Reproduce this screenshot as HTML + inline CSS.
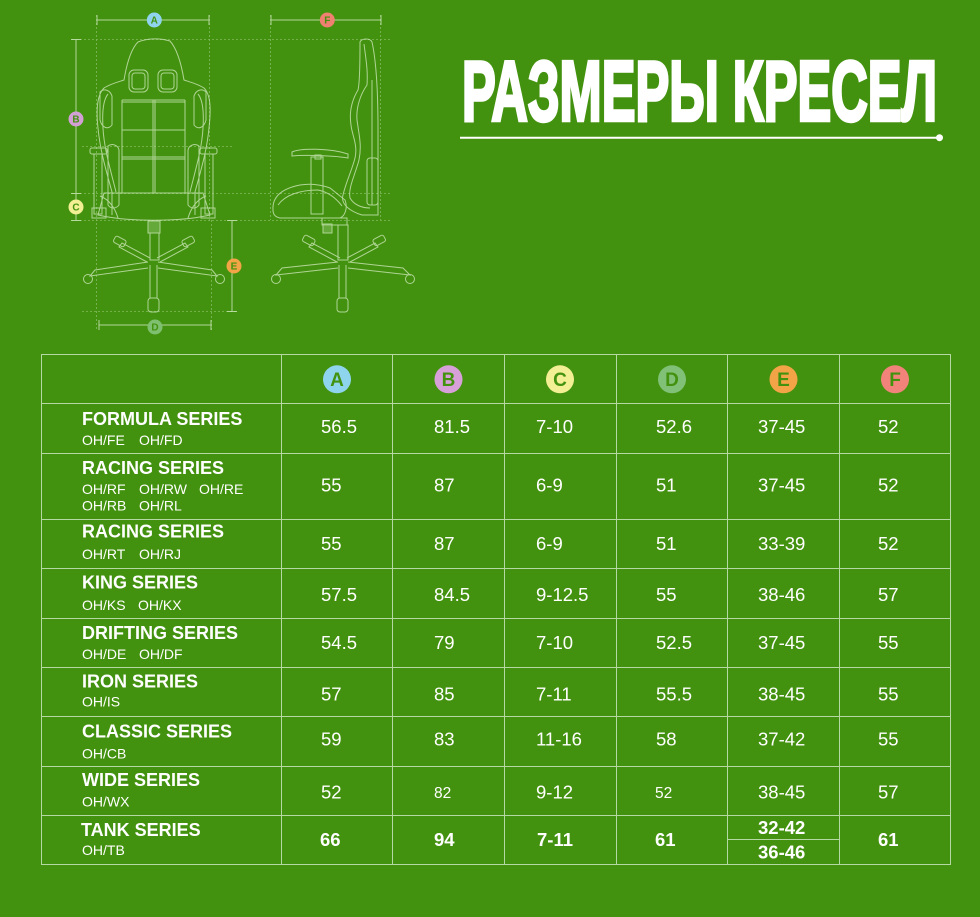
<!DOCTYPE html>
<html><head><meta charset="utf-8"><style>
html,body{margin:0;padding:0;background:#43920f;}
svg{display:block;}
</style></head><body>
<svg width="980" height="917" viewBox="0 0 980 917" xmlns="http://www.w3.org/2000/svg">
<rect width="980" height="917" fill="#43920f"/>

<!-- guide dashed lines -->
<g stroke="#b9dca0" stroke-width="0.8" stroke-dasharray="2,2" opacity="0.55" fill="none">
<line x1="72" y1="39.5" x2="392" y2="39.5"/>
<line x1="72" y1="193.5" x2="390" y2="193.5"/>
<line x1="72" y1="220.5" x2="392" y2="220.5"/>
<line x1="82" y1="146.5" x2="232" y2="146.5"/>
<line x1="82" y1="311.5" x2="237" y2="311.5"/>
<line x1="96.5" y1="15" x2="96.5" y2="330"/>
<line x1="209.5" y1="15" x2="209.5" y2="222"/>
<line x1="211.5" y1="220" x2="211.5" y2="330"/>
<line x1="270.5" y1="15" x2="270.5" y2="220"/>
<line x1="380.5" y1="15" x2="380.5" y2="220"/>
</g>

<!-- dimension lines -->
<g stroke="#cfe8bd" stroke-width="1" fill="none" opacity="0.8">
<line x1="97" y1="20" x2="209" y2="20"/><line x1="97" y1="15" x2="97" y2="25"/><line x1="209" y1="15" x2="209" y2="25"/>
<line x1="271" y1="20" x2="381" y2="20"/><line x1="271" y1="15" x2="271" y2="25"/><line x1="381" y1="15" x2="381" y2="25"/>
<line x1="76" y1="39" x2="76" y2="220"/><line x1="71" y1="39.5" x2="81" y2="39.5"/><line x1="71" y1="193.5" x2="81" y2="193.5"/><line x1="71" y1="220.5" x2="81" y2="220.5"/>
<line x1="232" y1="220" x2="232" y2="312"/><line x1="227" y1="220.5" x2="237" y2="220.5"/><line x1="227" y1="311.5" x2="237" y2="311.5"/>
<line x1="99" y1="325" x2="211" y2="325"/><line x1="99" y1="320" x2="99" y2="330"/><line x1="211" y1="320" x2="211" y2="330"/>
</g>

<!-- front chair -->
<g stroke="#d3ecc2" stroke-width="1" fill="none" opacity="0.75">
<path d="M112,215 L112,192 C106,170 100,150 98,128 C96,110 97,95 104,88 C110,84 118,82 124,80 C126,68 130,50 138,42 C148,38 160,38 170,41 C178,50 182,68 184,80 C190,82 198,84 204,88 C211,95 211,110 209,128 C207,150 201,170 195,192 L195,215"/>
<path d="M116,192 C110,168 104,148 103,128 C102,112 103,100 108,94 M190,192 C196,168 202,148 203,128 C204,112 203,100 198,94"/>
<path d="M100,92 C104,88 110,90 112,96 L112,125 C108,130 102,128 100,120 Z"/>
<path d="M206,92 C202,88 196,90 194,96 L194,125 C198,130 204,128 206,120 Z"/>
<rect x="129" y="70" width="19" height="22" rx="5"/><rect x="158" y="70" width="19" height="22" rx="5"/>
<rect x="132" y="73" width="13" height="16" rx="3"/><rect x="161" y="73" width="13" height="16" rx="3"/>
<line x1="122" y1="100" x2="122" y2="193"/><line x1="185" y1="100" x2="185" y2="193"/>
<line x1="153" y1="100" x2="153" y2="193"/><line x1="155" y1="100" x2="155" y2="193"/>
<line x1="122" y1="100" x2="185" y2="100"/><line x1="122" y1="102" x2="185" y2="102"/>
<line x1="122" y1="130" x2="185" y2="130"/><line x1="122" y1="157" x2="185" y2="157"/><line x1="122" y1="159" x2="185" y2="159"/>
<path d="M104,193 L203,193 L210,215 C180,222 128,222 98,215 Z"/>
<path d="M100,196 C110,200 115,208 118,218 M206,196 C196,200 191,208 188,218"/>
<rect x="90" y="148" width="17" height="6" rx="2"/><rect x="94" y="154" width="8" height="60"/><rect x="92" y="208" width="14" height="10"/>
<path d="M108,146 C112,143 118,145 119,150 L119,205 C115,210 110,208 108,205 Z"/>
<rect x="200" y="148" width="17" height="6" rx="2"/><rect x="205" y="154" width="8" height="60"/><rect x="201" y="208" width="14" height="10"/>
<path d="M199,146 C195,143 189,145 188,150 L188,205 C192,210 197,208 199,205 Z"/>
<rect x="148" y="221" width="12" height="12" fill="#9fcf86" fill-opacity="0.5"/>
<rect x="150" y="233" width="9" height="27"/>
<path d="M150,258 L122,243 L119,247 L147,262"/><rect x="114" y="238" width="12" height="7" rx="2" transform="rotate(28 120 241)"/>
<path d="M157,258 L185,243 L188,247 L160,262"/><rect x="182" y="238" width="12" height="7" rx="2" transform="rotate(-28 188 241)"/>
<path d="M148,262 L95,270 L90,276 L148,268"/><circle cx="88" cy="279" r="4.5"/>
<path d="M158,262 L212,270 L217,276 L158,268"/><circle cx="220" cy="279" r="4.5"/>
<path d="M150,265 L150,298 M157,265 L157,298"/><rect x="148" y="298" width="11" height="14" rx="3"/>
</g>

<!-- side chair -->
<g stroke="#d3ecc2" stroke-width="1" fill="none" opacity="0.75">
<path d="M360,42 C362,38 370,38 372,42 C376,60 378,90 378,130 L378,215 L362,215 C352,212 340,205 343,195 C346,182 352,170 355,158 C358,145 352,135 351,125 C349,112 352,100 358,90 C360,82 360,60 360,42 Z"/>
<path d="M364,44 C366,60 368,70 367,85 C360,95 356,108 357,120 C359,135 362,145 359,160 C355,175 348,188 350,198 C354,205 362,208 370,208"/>
<line x1="372" y1="80" x2="372" y2="205"/>
<rect x="367" y="158" width="11" height="47" rx="3"/>
<path d="M273,210 C272,195 285,188 300,185 C312,183 322,185 330,188 L345,200 C348,208 345,216 340,218 L280,218 C275,217 273,214 273,210 Z"/>
<path d="M278,205 C285,195 300,190 318,190 C328,192 336,198 342,206"/>
<path d="M292,152 C300,148 330,148 348,154 L348,158 C330,155 300,155 292,156 Z"/>
<rect x="311" y="157" width="12" height="57"/><rect x="315" y="155" width="6" height="4"/>
<rect x="322" y="218" width="25" height="7"/>
<rect x="323" y="224" width="9" height="9" fill="#9fcf86" fill-opacity="0.5"/>
<rect x="338" y="225" width="10" height="35"/>
<path d="M340,258 L312,243 L309,247 L337,262"/><rect x="303" y="237" width="12" height="7" rx="2" transform="rotate(28 309 240)"/>
<path d="M347,258 L375,243 L378,247 L350,262"/><rect x="373" y="237" width="12" height="7" rx="2" transform="rotate(-28 379 240)"/>
<path d="M338,262 L282,268 L276,275 L338,268"/><circle cx="276" cy="279" r="4.5"/>
<path d="M348,262 L403,268 L410,275 L348,268"/><circle cx="410" cy="279" r="4.5"/>
<path d="M339,265 L339,298 M346,265 L346,298"/><rect x="337" y="298" width="11" height="14" rx="3"/>
</g>

<!-- dimension label circles -->
<g font-family="Liberation Sans, sans-serif" font-weight="bold" font-size="10" text-anchor="middle" fill="#43920f">
<circle cx="154.3" cy="20" r="7.5" fill="#8fd3ec"/><text x="154.3" y="23.6">A</text>
<circle cx="327.3" cy="20" r="7.5" fill="#f08070"/><text x="327.3" y="23.6">F</text>
<circle cx="76" cy="119" r="7.5" fill="#d3a0d6"/><text x="76" y="122.6">B</text>
<circle cx="76" cy="207" r="7.5" fill="#f2ef94"/><text x="76" y="210.6">C</text>
<circle cx="234" cy="266" r="7.5" fill="#f2a446"/><text x="234" y="269.6">E</text>
<circle cx="155" cy="327" r="7.5" fill="#7fc070"/><text x="155" y="330.6">D</text>
</g>

<!-- title -->
<text x="462" y="120.5" font-family="Liberation Sans, sans-serif" font-weight="bold" font-size="85" textLength="475" lengthAdjust="spacingAndGlyphs" fill="#ffffff" stroke="#ffffff" stroke-width="3.5" stroke-linejoin="miter">РАЗМЕРЫ КРЕСЕЛ</text>
<line x1="460" y1="137.7" x2="940" y2="137.7" stroke="#ffffff" stroke-width="2"/>
<circle cx="939.5" cy="137.7" r="3.5" fill="#ffffff"/>

<!-- table grid -->
<g stroke="#b6d9a3" stroke-width="1" fill="none">
<rect x="41.5" y="354.5" width="909" height="510"/>
<line x1="41" y1="403.5" x2="951" y2="403.5"/>
<line x1="41" y1="453.5" x2="951" y2="453.5"/>
<line x1="41" y1="519.5" x2="951" y2="519.5"/>
<line x1="41" y1="568.5" x2="951" y2="568.5"/>
<line x1="41" y1="618.5" x2="951" y2="618.5"/>
<line x1="41" y1="667.5" x2="951" y2="667.5"/>
<line x1="41" y1="716.5" x2="951" y2="716.5"/>
<line x1="41" y1="766.5" x2="951" y2="766.5"/>
<line x1="41" y1="815.5" x2="951" y2="815.5"/>
<line x1="728" y1="839.5" x2="839" y2="839.5"/>
<line x1="281.5" y1="354" x2="281.5" y2="865"/>
<line x1="392.5" y1="354" x2="392.5" y2="865"/>
<line x1="504.5" y1="354" x2="504.5" y2="865"/>
<line x1="616.5" y1="354" x2="616.5" y2="865"/>
<line x1="727.5" y1="354" x2="727.5" y2="865"/>
<line x1="839.5" y1="354" x2="839.5" y2="865"/>
</g>

<!-- header circles -->
<g font-family="Liberation Sans, sans-serif" font-weight="bold" font-size="19" text-anchor="middle" fill="#43920f">
<circle cx="337" cy="379.3" r="14" fill="#8ed4ec"/><text x="337" y="386.2">A</text>
<circle cx="448.5" cy="379.3" r="14" fill="#d7a0d8"/><text x="448.5" y="386.2">B</text>
<circle cx="560" cy="379.3" r="14" fill="#f2ef94"/><text x="560" y="386.2">C</text>
<circle cx="672" cy="379.3" r="14" fill="#80c177"/><text x="672" y="386.2">D</text>
<circle cx="783.5" cy="379.3" r="14" fill="#f2a446"/><text x="783.5" y="386.2">E</text>
<circle cx="895" cy="379.3" r="14" fill="#f2837a"/><text x="895" y="386.2">F</text>
</g>

<!-- series names -->
<g font-family="Liberation Sans, sans-serif" font-weight="bold" font-size="18" fill="#ffffff">
<text x="82" y="425">FORMULA SERIES</text>
<text x="82" y="474">RACING SERIES</text>
<text x="82" y="537.5">RACING SERIES</text>
<text x="82" y="588.3">KING SERIES</text>
<text x="82" y="639">DRIFTING SERIES</text>
<text x="82" y="687.3">IRON SERIES</text>
<text x="82" y="737.7">CLASSIC SERIES</text>
<text x="82" y="786">WIDE SERIES</text>
<text x="81" y="836">TANK SERIES</text>
</g>

<!-- codes -->
<g font-family="Liberation Sans, sans-serif" font-size="14" fill="#ffffff">
<text x="82" y="445">OH/FE</text><text x="139" y="445">OH/FD</text>
<text x="82" y="494">OH/RF</text><text x="139" y="494">OH/RW</text><text x="199" y="494">OH/RE</text>
<text x="82" y="510.5">OH/RB</text><text x="139" y="510.5">OH/RL</text>
<text x="82" y="559">OH/RT</text><text x="139" y="559">OH/RJ</text>
<text x="82" y="610">OH/KS</text><text x="138" y="610">OH/KX</text>
<text x="82" y="659">OH/DE</text><text x="139" y="659">OH/DF</text>
<text x="82" y="706.7">OH/IS</text>
<text x="82" y="758.3">OH/CB</text>
<text x="82" y="806.7">OH/WX</text>
<text x="82" y="855">OH/TB</text>
</g>

<!-- values -->
<g font-family="Liberation Sans, sans-serif" font-size="18.5" fill="#ffffff">
<text x="321" y="433">56.5</text><text x="434" y="433">81.5</text><text x="536" y="433">7-10</text><text x="656" y="433">52.6</text><text x="758" y="433">37-45</text><text x="878" y="433">52</text>
<text x="321" y="491.5">55</text><text x="434" y="491.5">87</text><text x="536" y="491.5">6-9</text><text x="656" y="491.5">51</text><text x="758" y="491.5">37-45</text><text x="878" y="491.5">52</text>
<text x="321" y="550">55</text><text x="434" y="550">87</text><text x="536" y="550">6-9</text><text x="656" y="550">51</text><text x="758" y="550">33-39</text><text x="878" y="550">52</text>
<text x="321" y="601">57.5</text><text x="434" y="601">84.5</text><text x="536" y="601">9-12.5</text><text x="656" y="601">55</text><text x="758" y="601">38-46</text><text x="878" y="601">57</text>
<text x="321" y="649">54.5</text><text x="434" y="649">79</text><text x="536" y="649">7-10</text><text x="656" y="649">52.5</text><text x="758" y="649">37-45</text><text x="878" y="649">55</text>
<text x="321" y="700.7">57</text><text x="434" y="700.7">85</text><text x="536" y="700.7">7-11</text><text x="656" y="700.7">55.5</text><text x="758" y="700.7">38-45</text><text x="878" y="700.7">55</text>
<text x="321" y="745.7">59</text><text x="434" y="745.7">83</text><text x="536" y="745.7">11-16</text><text x="656" y="745.7">58</text><text x="758" y="745.7">37-42</text><text x="878" y="745.7">55</text>
<text x="321" y="798.3">52</text><text x="434" y="798" font-size="15.5">82</text><text x="536" y="798.3">9-12</text><text x="655" y="798" font-size="15.5">52</text><text x="758" y="798.3">38-45</text><text x="878" y="798.3">57</text>
</g>
<g font-family="Liberation Sans, sans-serif" font-size="18.5" font-weight="bold" fill="#ffffff">
<text x="320" y="846">66</text><text x="434" y="846">94</text><text x="537" y="846">7-11</text><text x="655" y="846">61</text><text x="758" y="834">32-42</text><text x="758" y="858.3">36-46</text><text x="878" y="846">61</text>
</g>
</svg>
</body></html>
